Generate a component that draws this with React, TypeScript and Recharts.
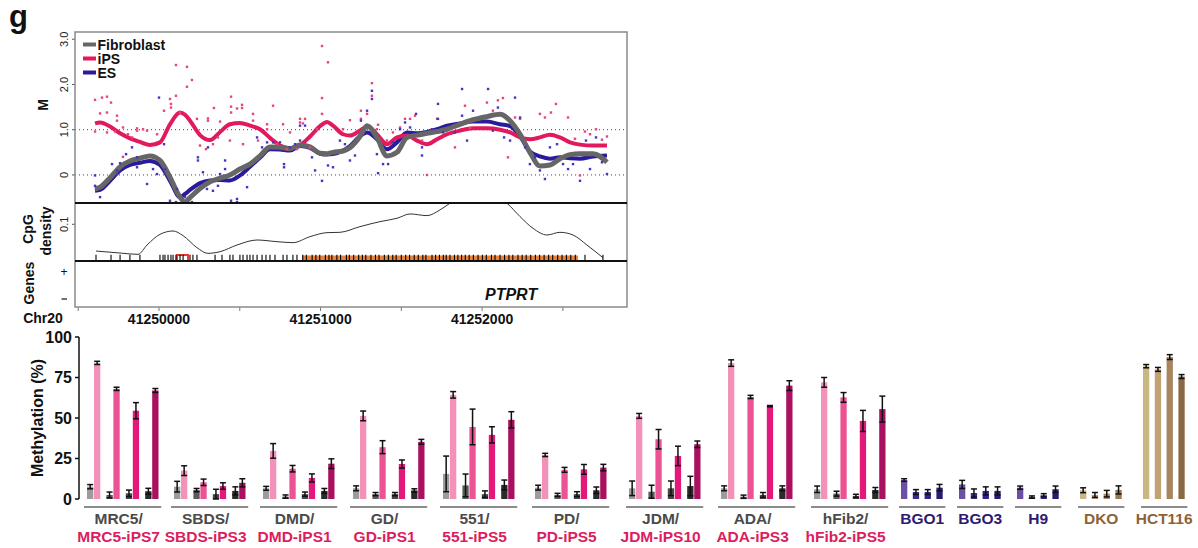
import React from 'react';
import {
  ComposedChart, Line, Scatter, XAxis, YAxis, ReferenceLine, ReferenceArea,
  Bar, Cell, ErrorBar,
} from 'recharts';

const FONT = '"Liberation Sans", Arial, Helvetica, sans-serif';

// ================= TOP PANEL DATA (Chr20 PTPRT locus) =================
const X_MIN = 41249480;
const X_MAX = 41252897;
const axisTicks = [41249500, 41250000, 41250500, 41251000, 41251500, 41252000, 41252500];
const mTicks = [0, 1, 2, 3];
const cpgTicks = [0, 0.1];

const smoothPos = [
  41249604, 41249635, 41249697, 41249759, 41249820, 41249882, 41249944, 41250006, 41250068, 41250130,
  41250161, 41250192, 41250254, 41250316, 41250378, 41250439, 41250501, 41250563, 41250625, 41250687,
  41250749, 41250811, 41250873, 41250935, 41250997, 41251040, 41251077, 41251139, 41251182, 41251244,
  41251288, 41251349, 41251411, 41251473, 41251535, 41251597, 41251659, 41251721, 41251783, 41251863,
  41251944, 41252030, 41252111, 41252173, 41252235, 41252296, 41252358, 41252420, 41252482, 41252544,
  41252606, 41252687, 41252773,
];
const fibroblastSmooth = [
  -0.31, -0.27, -0.06, 0.18, 0.31, 0.37, 0.42, 0.32, -0.05, -0.49,
  -0.6, -0.5, -0.3, -0.15, -0.07, 0.0, 0.13, 0.24, 0.42, 0.62,
  0.61, 0.58, 0.66, 0.62, 0.48, 0.47, 0.5, 0.53, 0.6, 0.85,
  1.09, 0.83, 0.42, 0.5, 0.83, 0.88, 0.92, 0.96, 1.01, 1.12,
  1.22, 1.29, 1.34, 1.2, 0.9, 0.5, 0.2, 0.22, 0.36, 0.45,
  0.47, 0.47, 0.28,
];
const ipsSmooth = [
  1.14, 1.16, 1.07, 0.92, 0.81, 0.73, 0.66, 0.72, 1.12, 1.38,
  1.33, 1.2, 0.88, 0.77, 0.95, 1.12, 1.15, 1.09, 1.01, 0.82,
  0.65, 0.59, 0.66, 0.85, 1.08, 1.17, 1.09, 0.9, 0.87, 0.98,
  1.07, 0.9, 0.68, 0.83, 0.87, 0.76, 0.68, 0.79, 0.9, 0.98,
  1.03, 1.03, 1.0, 0.94, 0.83, 0.79, 0.83, 0.89, 0.83, 0.72,
  0.67, 0.65, 0.65,
];
const esSmooth = [
  -0.35, -0.33, -0.13, 0.1, 0.22, 0.27, 0.31, 0.22, -0.13, -0.49,
  -0.42, -0.33, -0.18, -0.12, -0.11, -0.12, -0.01, 0.18, 0.38, 0.57,
  0.56, 0.54, 0.64, 0.6, 0.47, 0.45, 0.46, 0.54, 0.64, 0.86,
  0.94, 0.79, 0.57, 0.72, 0.94, 0.92, 0.95, 1.01, 1.09, 1.14,
  1.18, 1.18, 1.12, 1.08, 0.85, 0.52, 0.41, 0.36, 0.39, 0.37,
  0.36, 0.41, 0.43,
];

const ipsPoints: [number, number][] = [
  [41249604, 1.66], [41249647, 1.71], [41249678, 1.73], [41249703, 1.6], [41249635, 1.36], [41249678, 1.38],
  [41249740, 1.31], [41249740, 1.2], [41249604, 0.96], [41249678, 0.94], [41249728, 0.96], [41249777, 1.05],
  [41249808, 0.9], [41249864, 1.03], [41249864, 0.98], [41249901, 1.01], [41249926, 0.98], [41249777, 0.4],
  [41249833, 0.83], [41249988, 0.9], [41250031, 1.42], [41250068, 1.68], [41250074, 1.57], [41250074, 1.49],
  [41250105, 2.43], [41250173, 2.39], [41250173, 1.95], [41250204, 2.1], [41250105, 1.75], [41250130, 1.38],
  [41250235, 1.24], [41250303, 1.25], [41250303, 1.2], [41250340, 1.48], [41250378, 1.18], [41250446, 1.73],
  [41250446, 1.51], [41250446, 1.38], [41250483, 1.47], [41250514, 1.55], [41250514, 1.48], [41250582, 1.35],
  [41250582, 1.2], [41250669, 1.12], [41250706, 1.53], [41250768, 1.12], [41250811, 0.94], [41250873, 1.24],
  [41250873, 1.16], [41250891, 1.14], [41250978, 1.01], [41251009, 2.85], [41251009, 1.7], [41251046, 2.49],
  [41250254, 0.65], [41250291, 0.57], [41250334, 0.68], [41250365, 0.83], [41250439, 0.76], [41250520, 0.68],
  [41250613, 0.76], [41250669, 1.01], [41250730, 0.68], [41250792, 0.57], [41250854, 0.57], [41250935, 0.61],
  [41250904, 1.24], [41251009, 1.35], [41251139, 1.01], [41251182, 1.21], [41251250, 1.42], [41251250, 1.24],
  [41251288, 1.35], [41251318, 2.03], [41251318, 1.75], [41251356, 1.11], [41251349, 1.01], [41251411, 0.76],
  [41251448, 0.94], [41251492, 1.05], [41251523, 1.24], [41251554, 1.24], [41251585, 1.31], [41251628, 0.76],
  [41251659, 0.0], [41251690, 1.01], [41251721, 1.24], [41251832, 0.61], [41251894, 1.53], [41251925, 1.04],
  [41252030, 1.6], [41252067, 1.42], [41252098, 1.65], [41252129, 1.7], [41252160, 0.39], [41252204, 1.27],
  [41252235, 1.24], [41252358, 1.35], [41252389, 1.27], [41252426, 1.38], [41252457, 1.57], [41252532, 1.27],
  [41252637, 0.96], [41252668, 0.9], [41252705, 1.01], [41252773, 0.85], [41252606, -0.01], [41252575, 0.8],
  [41252742, 0.78],
];

const esPoints: [number, number][] = [
  [41249604, -0.01], [41249604, -0.24], [41249635, -0.49], [41249709, 0.24], [41249740, 0.1], [41249740, 0.02],
  [41249759, 0.26], [41249796, 0.46], [41249833, 0.61], [41249864, 0.39], [41249864, 0.17], [41249926, -0.2],
  [41249963, 0.13], [41249988, 0.02], [41250000, 1.71], [41250031, 0.68], [41250037, 0.13], [41250068, -0.57],
  [41250111, -0.31], [41250105, -0.6], [41250161, -0.49], [41250204, -0.6], [41250241, 0.39], [41250241, 0.32],
  [41250272, 0.06], [41250297, -0.31], [41250303, 0.61], [41250334, -0.35], [41250365, -0.24], [41250378, 0.02],
  [41250409, 0.32], [41250409, 0.13], [41250446, -0.57], [41250483, -0.53], [41250483, -0.6], [41250545, -0.27],
  [41250607, 0.83], [41250638, 0.61], [41250669, 0.72], [41250706, 0.72], [41250749, 0.72], [41250774, 0.24],
  [41250774, 0.17], [41250811, 0.61], [41250842, 0.68], [41250873, 1.09], [41250904, 1.09], [41250947, 0.39],
  [41250966, 0.1], [41251009, -0.13], [41251046, 0.21], [41250873, 0.76], [41251077, 0.17], [41251120, 0.76],
  [41251151, 0.68], [41251182, 0.32], [41251213, 0.43], [41251250, 1.2], [41251288, 1.42], [41251318, 1.86],
  [41251318, 1.68], [41251349, 0.46], [41251356, 0.04], [41251387, 0.24], [41251418, 0.24], [41251448, 0.72],
  [41251492, 1.01], [41251523, 1.16], [41251554, 1.05], [41251591, 1.35], [41251628, 0.61], [41251628, 0.43],
  [41251690, 1.01], [41251727, 1.57], [41251727, 1.24], [41251758, 0.94], [41251832, 0.94], [41251876, 1.9],
  [41251876, 1.31], [41251907, 0.76], [41251944, 1.42], [41252037, 1.9], [41252067, 0.98], [41252098, 1.49],
  [41252136, 0.83], [41252173, 0.76], [41252204, 1.71], [41252235, 1.27], [41252266, 0.61], [41252296, 0.24],
  [41252327, 0.39], [41252358, 0.1], [41252389, -0.09], [41252420, 0.61], [41252464, 0.68], [41252501, 0.24],
  [41252532, 0.13], [41252563, 0.24], [41252606, -0.13], [41252643, 0.76], [41252668, 0.13], [41252705, 0.83],
  [41252742, 0.28], [41252773, 0.02],
];

const cpgDensityPos = [
  41249610, 41249759, 41249870, 41249926, 41250006, 41250087, 41250149, 41250235, 41250303, 41250378,
  41250483, 41250607, 41250730, 41250829, 41250935, 41251040, 41251120, 41251244, 41251368, 41251473,
  41251554, 41251659, 41251739, 41251801, 41251894, 41251987, 41252080, 41252154, 41252235, 41252315,
  41252402, 41252482, 41252563, 41252649, 41252748,
];
const cpgDensity = [
  0.02, 0.014, 0.01, 0.038, 0.07, 0.08, 0.066, 0.03, 0.013, 0.018,
  0.038, 0.053, 0.048, 0.045, 0.063, 0.075, 0.076, 0.093, 0.108, 0.118,
  0.131, 0.126, 0.143, 0.163, 0.19, 0.2, 0.185, 0.163, 0.123, 0.088,
  0.068, 0.076, 0.068, 0.038, 0.0,
];
const cpgSites = [
  41249610, 41249703, 41249759, 41249820, 41249882, 41250006, 41250025, 41250037, 41250056, 41250074,
  41250087, 41250105, 41250130, 41250149, 41250192, 41250210, 41250235, 41250347, 41250390, 41250439,
  41250458, 41250501, 41250520, 41250545, 41250563, 41250582, 41250607, 41250638, 41250662, 41250687,
  41250718, 41250768, 41250792, 41250829, 41250854,
  41250890, 41250912, 41250948, 41250971, 41250995, 41251030, 41251052, 41251070, 41251101, 41251124,
  41251160, 41251178, 41251205, 41251236, 41251259, 41251280, 41251312, 41251340, 41251362, 41251395,
  41251420, 41251447, 41251468, 41251500, 41251527, 41251551, 41251580, 41251605, 41251633, 41251652,
  41251690, 41251712, 41251736, 41251760, 41251778, 41251801, 41251829, 41251850, 41251873, 41251896,
  41251920, 41251946, 41251975, 41252002, 41252026, 41252058, 41252080, 41252111, 41252139, 41252166,
  41252190, 41252222, 41252248, 41252273, 41252301, 41252330, 41252356, 41252384, 41252412, 41252437,
  41252468, 41252495, 41252522, 41252549, 41252577, 41252637, 41252748,
];
const cpgIsland = [41250885, 41252594];
const highlightedSite = [41250111, 41250180];
const geneName = 'PTPRT';
const geneExtent = [X_MIN, 41251944];
const geneCds = [41251684, 41251944];

const legendItems = [
  { name: 'Fibroblast', color: '#666666' },
  { name: 'iPS', color: '#e2195d' },
  { name: 'ES', color: '#2a1b9c' },
];

// ================= BOTTOM PANEL DATA (methylation %) =================
const pairedGroups = ['MRC5/', 'SBDS/', 'DMD/', 'GD/', '551/', 'PD/', 'JDM/', 'ADA/', 'hFib2/'];
const pairedIps = ['MRC5-iPS7', 'SBDS-iPS3', 'DMD-iPS1', 'GD-iPS1', '551-iPS5', 'PD-iPS5', 'JDM-iPS10', 'ADA-iPS3', 'hFib2-iPS5'];
const fibroMeth = [
  [7.6, 2.5, 3.5, 4.8], [7.6, 5.5, 3, 5], [6.6, 1.5, 3, 5], [6.6, 3, 3, 5.3], [15.5, 8.4, 3, 8.7],
  [7, 2.5, 3, 5.4], [6.6, 4.5, 6.6, 8], [6.6, 1.4, 2.5, 6.6], [6, 3.3, 1.9, 5.6],
];
const fibroErr = [
  [1.3, 1.8, 2, 1.8], [3.3, 1, 3, 2.5], [1.2, 1, 1.3, 1.5], [1.5, 1, 1, 1], [11, 7, 2, 3],
  [1.5, 1, 1.5, 2], [4.5, 4, 4.5, 6], [1.5, 1, 1.5, 1.5], [2, 1.5, 1, 1.5],
];
const ipsMeth = [
  [84, 68, 54.5, 67], [17.5, 10.3, 8, 10], [29.7, 18.7, 13, 21.8], [51.3, 32, 21.6, 35.3], [64.3, 44.5, 39.6, 48.9],
  [27.2, 18, 18.3, 19.4], [51.3, 36.9, 26.6, 33.8], [83.9, 63, 57.3, 70], [72, 62.7, 48.2, 55.5],
];
const ipsErr = [
  [1, 1, 5, 1.2], [3, 2, 2, 2.5], [4.5, 2, 2.5, 3], [3, 4, 2.5, 1.5], [2, 11, 5, 5],
  [1, 1.5, 3, 2], [1.5, 6, 6, 2], [2, 1, 0.4, 3], [3, 3, 6.5, 8],
];
const singleGroups = ['BGO1', 'BGO3', 'H9', 'DKO', 'HCT116'];
const singleMeth = [
  [11.7, 4.3, 4.3, 7], [9, 3.7, 5, 5], [7, 1.2, 2.3, 6], [5.4, 2.5, 3.3, 5.6], [82, 80, 87.6, 75.6],
];
const singleErr = [
  [0.8, 1.5, 1.5, 2], [2.5, 2.5, 2.5, 2.5], [1, 0.7, 1, 2], [1.5, 1.5, 2, 2.5], [1, 1.2, 1.5, 1.2],
];
const yTicksMeth = [0, 25, 50, 75, 100];

// ================= STYLES / LAYOUT =================
const GRAY = ['#9c9c9c', '#5c5c5c', '#474747', '#2b2b2b'];
const PINK = ['#f491bb', '#ec5394', '#e4187a', '#a9105f'];
const PURPLE = ['#6a4fa4', '#3c2c8c', '#33228a', '#2a1a70'];
const DKO_C = ['#c9b68b', '#b89c72', '#a98862', '#9a7a55'];
const HCT_C = ['#c9b681', '#c2a173', '#a8855f', '#8b6844'];
const SINGLE_COLORS = [PURPLE, PURPLE, PURPLE, DKO_C, HCT_C];
const SINGLE_LABEL = ['#2e1a6e', '#2e1a6e', '#2e1a6e', '#8c6239', '#8c6239'];
const GRAY_LABEL = '#4a4a4a';
const RED_LABEL = '#dc1d5e';

const GROUP_LEFT = [87, 174, 263, 353, 443, 535, 629, 721, 814, 901, 959, 1017, 1080, 1143];
const PAIR_PITCH = 19.4;
const QUAD_PITCH = 11.8;
const BAR_W = 7;
const BAR_PLOT_LEFT = 79;
const BAR_PLOT_TOP = 337;
const BAR_PLOT_BOTTOM = 499;
const LABEL_SHIFT = -4;

type BarRow = { x: number; v: number; e: number; fill: string };
const barRows: BarRow[] = [];
pairedGroups.forEach((_, gi) => {
  for (let p = 0; p < 4; p++) {
    const left = GROUP_LEFT[gi] + p * PAIR_PITCH - BAR_PLOT_LEFT;
    barRows.push({ x: left + BAR_W / 2, v: fibroMeth[gi][p], e: fibroErr[gi][p], fill: GRAY[p] });
    barRows.push({ x: left + BAR_W * 1.5, v: ipsMeth[gi][p], e: ipsErr[gi][p], fill: PINK[p] });
  }
});
singleGroups.forEach((_, si) => {
  for (let p = 0; p < 4; p++) {
    const left = GROUP_LEFT[9 + si] + p * QUAD_PITCH - BAR_PLOT_LEFT;
    barRows.push({ x: left + BAR_W / 2, v: singleMeth[si][p], e: singleErr[si][p], fill: SINGLE_COLORS[si][p] });
  }
});

const groupSpans = [
  ...pairedGroups.map((_, gi) => [GROUP_LEFT[gi] - 3, GROUP_LEFT[gi] + 3 * PAIR_PITCH + 2 * BAR_W + 2]),
  ...singleGroups.map((_, si) => [GROUP_LEFT[9 + si] - 2, GROUP_LEFT[9 + si] + 3 * QUAD_PITCH + BAR_W + 2]),
];

const T_LEFT = 75;
const T_RIGHT = 627;
const M_TOP = 32;
const M_BOTTOM = 203;
const C_BOTTOM = 261;
const G_BOTTOM = 307;

const fmtM = (v: number) => (v === 0 ? '0' : v.toFixed(1));
const fmtC = (v: number) => (v === 0 ? '0' : String(v));

const RotTick = (props: any) => {
  const { x, y, payload, fmt } = props;
  return (
    <text x={x} y={y} transform={`rotate(-90 ${x} ${y})`} textAnchor="middle"
      fontSize={11} fontFamily={FONT} fill="#222">{fmt(payload.value)}</text>
  );
};

const GenomeTick = (props: any) => {
  const { x, y, payload } = props;
  const v = payload.value;
  if (v % 1000 !== 0) return <g />;
  return (
    <text x={x} y={y} dy="0.71em" textAnchor="middle" fontSize={14} fontWeight="bold"
      fontFamily={FONT} fill="#111">{String(v)}</text>
  );
};

const square = (color: string) => (p: any) => (
  <rect x={p.cx - 1.2} y={p.cy - 1.2} width={2.4} height={2.4} fill={color} />
);
const siteTick = (p: any) => (
  <line x1={p.cx} x2={p.cx} y1={p.cy - 3} y2={p.cy + 4} stroke="#000" strokeWidth={1.1} />
);

function MPanel() {
  const rows = smoothPos.map((pos, i) => ({ pos, fib: fibroblastSmooth[i], ips: ipsSmooth[i], es: esSmooth[i] }));
  const ipsRows = ipsPoints.map(([pos, m]) => ({ pos, m }));
  const esRows = esPoints.map(([pos, m]) => ({ pos, m }));
  return (
    <div style={{ position: 'absolute', left: 0, top: 0 }}>
      <ComposedChart width={T_RIGHT} height={M_BOTTOM} data={rows}
        margin={{ top: M_TOP, right: 0, bottom: 0, left: 0 }}>
        <XAxis type="number" dataKey="pos" domain={[X_MIN, X_MAX]} hide allowDataOverflow />
        <YAxis type="number" domain={[-0.62, 3.16]} ticks={mTicks} width={T_LEFT} allowDataOverflow
          tickSize={3} tickMargin={4} tickLine={{ stroke: '#555' }} axisLine={false}
          tick={(p: any) => <RotTick {...p} fmt={fmtM} />} />
        <ReferenceLine y={1} stroke="#444" strokeDasharray="1 3" />
        <ReferenceLine y={0} stroke="#444" strokeDasharray="1 3" />
        <Scatter data={ipsRows} dataKey="m" shape={square('#e8467a')} isAnimationActive={false} />
        <Scatter data={esRows} dataKey="m" shape={square('#4535c0')} isAnimationActive={false} />
        <Line dataKey="es" type="monotone" stroke="#2a1b9c" strokeWidth={4} dot={false} isAnimationActive={false} />
        <Line dataKey="ips" type="monotone" stroke="#e2195d" strokeWidth={4} dot={false} isAnimationActive={false} />
        <Line dataKey="fib" type="monotone" stroke="#666666" strokeWidth={5} dot={false} isAnimationActive={false} />
      </ComposedChart>
    </div>
  );
}

function CpGPanel() {
  const rows = cpgDensityPos.map((pos, i) => ({ pos, d: cpgDensity[i] }));
  const sites = cpgSites.map((pos) => ({ pos, y: 0 }));
  return (
    <div style={{ position: 'absolute', left: 0, top: 0 }}>
      <ComposedChart width={T_RIGHT} height={C_BOTTOM} data={rows}
        margin={{ top: M_BOTTOM, right: 0, bottom: 0, left: 0 }}>
        <XAxis type="number" dataKey="pos" domain={[X_MIN, X_MAX]} hide allowDataOverflow />
        <YAxis type="number" domain={[-0.0099, 0.1638]} ticks={cpgTicks} width={T_LEFT} allowDataOverflow
          tickSize={3} tickMargin={4} tickLine={{ stroke: '#555' }} axisLine={false}
          tick={(p: any) => <RotTick {...p} fmt={fmtC} />} />
        <ReferenceArea x1={cpgIsland[0]} x2={cpgIsland[1]} y1={-0.0099} y2={0.0065}
          fill="#e9843f" fillOpacity={1} stroke="none" />
        <Line dataKey="d" type="monotone" stroke="#333" strokeWidth={1} dot={false} isAnimationActive={false} />
        <Scatter data={sites} dataKey="y" shape={siteTick} isAnimationActive={false} />
        <ReferenceArea x1={highlightedSite[0]} x2={highlightedSite[1]} y1={-0.022} y2={0.008}
          fill="none" fillOpacity={0} stroke="#e8392c" strokeWidth={2} ifOverflow="visible" />
      </ComposedChart>
    </div>
  );
}

function GenePanel() {
  const rows = [{ pos: geneExtent[0] }, { pos: geneExtent[1] }];
  return (
    <div style={{ position: 'absolute', left: 0, top: 0 }}>
      <ComposedChart width={T_RIGHT} height={G_BOTTOM + 30} data={rows}
        margin={{ top: C_BOTTOM, right: 0, bottom: 0, left: T_LEFT }}>
        <XAxis type="number" dataKey="pos" domain={[X_MIN, X_MAX]} ticks={axisTicks} interval={0}
          height={30} tickSize={4} tickMargin={3} tickLine={{ stroke: '#777' }} axisLine={false}
          tick={GenomeTick} allowDataOverflow />
        <YAxis type="number" domain={[0, 1]} hide />
        <ReferenceLine y={0.5} stroke="#666" strokeDasharray="1 2" />
        <ReferenceArea x1={geneExtent[0]} x2={geneExtent[1]} y1={0.224} y2={0.463}
          fill="#fafafa" fillOpacity={1} stroke="#8e8e8e" strokeWidth={1.5} />
        <ReferenceArea x1={geneExtent[0]} x2={geneExtent[1]} y1={0.28} y2={0.40}
          fill="#ececec" fillOpacity={1} stroke="none" />
        <ReferenceArea x1={geneCds[0]} x2={geneCds[1]} y1={0.245} y2={0.42}
          fill="#5f5f5f" fillOpacity={1} stroke="#3e3e3e" strokeWidth={1} />
      </ComposedChart>
    </div>
  );
}

function BarPanel() {
  return (
    <div style={{ position: 'absolute', left: 0, top: 0 }}>
      <ComposedChart width={1198} height={548} data={barRows}
        margin={{ top: BAR_PLOT_TOP, right: 0, bottom: 548 - BAR_PLOT_BOTTOM, left: 0 }}>
        <XAxis type="number" dataKey="x" domain={[0, 1198 - BAR_PLOT_LEFT]} hide />
        <YAxis type="number" domain={[0, 100]} ticks={yTicksMeth} width={BAR_PLOT_LEFT}
          tickSize={4} tickMargin={3}
          tickLine={{ stroke: '#111', strokeWidth: 1.5 }} axisLine={{ stroke: '#111', strokeWidth: 1.5 }}
          tick={{ fontSize: 16, fontWeight: 'bold', fill: '#111', fontFamily: FONT }} />
        <Bar dataKey="v" barSize={BAR_W} isAnimationActive={false}>
          {barRows.map((r, i) => <Cell key={i} fill={r.fill} />)}
          <ErrorBar dataKey="e" width={3} stroke="#111" strokeWidth={1.5} direction="y" />
        </Bar>
      </ComposedChart>
    </div>
  );
}

function Overlay() {
  return (
    <svg width={1198} height={548} style={{ position: 'absolute', left: 0, top: 0, pointerEvents: 'none' }}
      fontFamily={FONT}>
      <text x={9} y={27} fontSize={31} fontWeight="bold" fill="#111">g</text>
      <rect x={T_LEFT} y={M_TOP} width={T_RIGHT - T_LEFT} height={G_BOTTOM - M_TOP} fill="none" stroke="#8a8a8a" strokeWidth={1.5} />
      <line x1={T_LEFT} x2={T_RIGHT} y1={M_BOTTOM} y2={M_BOTTOM} stroke="#111" strokeWidth={2} />
      <line x1={T_LEFT} x2={T_RIGHT} y1={C_BOTTOM} y2={C_BOTTOM} stroke="#111" strokeWidth={2} />
      {legendItems.map((it, i) => (
        <g key={it.name}>
          <line x1={83} x2={96} y1={44.5 + i * 14} y2={44.5 + i * 14} stroke={it.color} strokeWidth={4} />
          <text x={97.5} y={49.5 + i * 14} fontSize={14} fontWeight="bold" fill="#111">{it.name}</text>
        </g>
      ))}
      <text x={43} y={105} fontSize={14} fontWeight="bold" fill="#111" textAnchor="middle" dominantBaseline="central"
        transform="rotate(-90 43 105)">M</text>
      <text x={27.5} y={229} fontSize={14} fontWeight="bold" fill="#111" textAnchor="middle" dominantBaseline="central"
        transform="rotate(-90 27.5 229)">CpG</text>
      <text x={46} y={231} fontSize={14} fontWeight="bold" fill="#111" textAnchor="middle" dominantBaseline="central"
        transform="rotate(-90 46 231)">density</text>
      <text x={29} y={283} fontSize={14} fontWeight="bold" fill="#111" textAnchor="middle" dominantBaseline="central"
        transform="rotate(-90 29 283)">Genes</text>
      <text x={64} y={276} fontSize={12} fill="#111" textAnchor="middle">+</text>
      <line x1={61.5} x2={67} y1={299} y2={299} stroke="#111" strokeWidth={1.2} />
      <text x={43} y={323} fontSize={14} fontWeight="bold" fill="#111" textAnchor="middle">Chr20</text>
      <text x={485} y={299.5} fontSize={16} fontWeight="bold" fontStyle="italic" fill="#111">{geneName}</text>
      <text x={37} y={418} fontSize={16} fontWeight="bold" fill="#111" textAnchor="middle" dominantBaseline="central"
        transform="rotate(-90 37 418)">Methylation (%)</text>
      {groupSpans.map(([a, b], i) => {
        const paired = i < pairedGroups.length;
        const cx = (a + b) / 2 + (paired ? LABEL_SHIFT : 0);
        return (
          <g key={i}>
            <line x1={a} x2={b} y1={507} y2={507} stroke="#8c8c8c" strokeWidth={2} />
            <text x={cx} y={523.5} fontSize={15.5} textAnchor="middle" fontWeight="bold"
              fill={paired ? GRAY_LABEL : SINGLE_LABEL[i - pairedGroups.length]}>
              {paired ? pairedGroups[i] : singleGroups[i - pairedGroups.length]}
            </text>
            {paired && (
              <text x={cx} y={542} fontSize={15.5} fontWeight="bold" textAnchor="middle" fill={RED_LABEL}>{pairedIps[i]}</text>
            )}
          </g>
        );
      })}
    </svg>
  );
}

export default function App() {
  return (
    <div style={{ position: 'absolute', left: 0, top: 0, width: 1198, height: 548, background: '#fff', fontFamily: FONT }}>
      <BarPanel />
      <MPanel />
      <CpGPanel />
      <GenePanel />
      <Overlay />
    </div>
  );
}
